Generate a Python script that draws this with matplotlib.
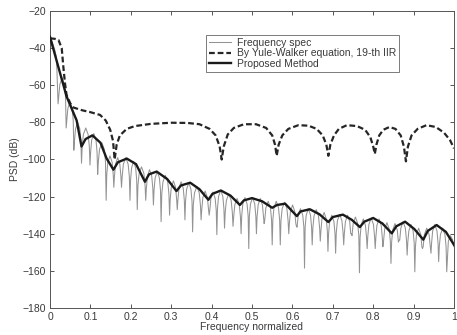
import matplotlib
matplotlib.use("Agg")
import matplotlib.pyplot as plt
import numpy as np

plt.rcParams['font.family'] = ['Liberation Sans', 'DejaVu Sans']

# ---- data ----
# Frequency spec (thin gray): main-lobe head, notch positions/depths, lobe peaks, tail
spec_head_f = [0.0, 0.006, 0.012, 0.016]
spec_head_db = [-34, -37, -41, -45]
notch_f = [0.020, 0.040, 0.059, 0.078, 0.099, 0.118, 0.139, 0.158, 0.177, 0.198,
           0.216, 0.237, 0.256, 0.275, 0.296, 0.315, 0.334, 0.353, 0.374, 0.394,
           0.413, 0.432, 0.453, 0.473, 0.492, 0.511, 0.530, 0.550, 0.570, 0.591,
           0.610, 0.630, 0.649, 0.669, 0.688, 0.707, 0.727, 0.746, 0.766, 0.785,
           0.805, 0.824, 0.844, 0.864, 0.884, 0.903, 0.922, 0.943, 0.962, 0.982]
notch_db = [-70, -83, -95, -102, -103, -108, -122, -115, -115, -122,
            -127, -122, -124.5, -133.5, -130, -127, -132.5, -139, -132.5, -130,
            -140.5, -137, -136, -140, -148, -140, -134.5, -146, -146, -140,
            -136, -158.5, -146, -144, -149.5, -150.5, -146, -140, -161, -148,
            -148, -147, -156, -143.5, -151.5, -160.5, -148, -150.5, -155, -160.5]
lobe_db = [-56, -69, -80, -83, -86, -91, -98, -99, -99,
           -101, -104, -105.5, -106.5, -108.5, -111.5, -112, -112.5, -114.5, -117,
           -117.5, -116.5, -118.5, -121, -120.5, -120.5, -121, -122.5, -122.5, -123,
           -124.5, -126.5, -126.5, -127, -128.5, -130, -129.5, -130, -131, -132,
           -131.5, -132, -134, -134.5, -133.5, -135, -137, -137, -135, -137]
spec_tail_f = [0.986, 0.991, 0.996, 1.0]
spec_tail_db = [-144, -141, -143, -147]

# Yule-Walker 19-th IIR (dashed)
yw_f = [0.0, 0.012, 0.021, 0.029, 0.033, 0.037, 0.041, 0.05, 0.058, 0.08, 0.1, 0.124,
        0.138, 0.149, 0.156, 0.160, 0.165, 0.173, 0.19, 0.21, 0.25, 0.3, 0.34, 0.37,
        0.395, 0.41, 0.42, 0.425, 0.43, 0.44, 0.455, 0.48, 0.51, 0.535, 0.55, 0.557,
        0.561, 0.566, 0.575, 0.59, 0.615, 0.64, 0.66, 0.675, 0.684, 0.689, 0.694,
        0.703, 0.715, 0.735, 0.76, 0.78, 0.793, 0.8, 0.804, 0.808, 0.815, 0.825,
        0.84, 0.855, 0.868, 0.876, 0.881, 0.886, 0.895, 0.91, 0.932, 0.955, 0.975,
        0.99, 1.0]
yw_db = [-34.7, -35, -35.6, -40, -50, -58.8, -65.3, -69.7, -72, -73.5, -74.5, -76,
         -79, -84, -90, -100, -92, -87, -83.5, -82, -80.8, -80.2, -80.3, -81,
         -83.5, -87, -93, -100, -93, -86.5, -83, -81, -81, -83, -87, -92,
         -98, -92, -87, -83.5, -81.5, -81.8, -83.5, -87, -92, -98, -92,
         -87, -83.5, -81.5, -82, -84, -88, -93, -97, -92, -87, -84,
         -82.5, -83.5, -87, -93, -101, -93, -87, -83.5, -81.5, -82.5, -85.5,
         -89.5, -94]

# Proposed method (thick black)
pm_f = [0.0, 0.041, 0.066, 0.078, 0.088, 0.105, 0.125, 0.14, 0.157, 0.168, 0.19,
        0.213, 0.235, 0.245, 0.264, 0.29, 0.313, 0.324, 0.347, 0.37, 0.392, 0.402,
        0.423, 0.447, 0.47, 0.48, 0.5, 0.525, 0.55, 0.562, 0.582, 0.611, 0.62,
        0.643, 0.667, 0.689, 0.7, 0.725, 0.747, 0.767, 0.778, 0.8, 0.823, 0.846,
        0.857, 0.879, 0.902, 0.924, 0.935, 0.957, 0.98, 1.0]
pm_db = [-34, -66, -79, -93, -89, -87, -91, -99.4, -105.5, -101.5, -99.5,
         -102.5, -112, -108, -106.5, -110.5, -117, -114, -112.5, -116, -121.7, -118.5,
         -116.7, -119.5, -124.5, -122, -120.8, -122.5, -126, -124.5, -123.8, -130.5, -128,
         -126.8, -129.5, -133.7, -131, -129.7, -132.5, -136.4, -133.5, -131.5, -134.5, -139.8,
         -136, -133.5, -137.5, -143.2, -138.5, -135.3, -139, -146]

x_ticks = [0, 0.1, 0.2, 0.3, 0.4, 0.5, 0.6, 0.7, 0.8, 0.9, 1]
x_tick_labels = ['0', '0.1', '0.2', '0.3', '0.4', '0.5', '0.6', '0.7', '0.8', '0.9', '1']
y_ticks = [-180, -160, -140, -120, -100, -80, -60, -40, -20]
legend_labels = ['Frequency spec', 'By Yule-Walker equation, 19-th IIR', 'Proposed Method']

# ---- build gray spectrum path (lobe shape = rendering) ----
sf = list(spec_head_f)
sd = list(spec_head_db)
for i in range(len(notch_f)):
    sf.append(notch_f[i]); sd.append(notch_db[i])
    if i < len(notch_f) - 1:
        a, b = notch_f[i], notch_f[i + 1]
        d = b - a
        p = lobe_db[i]
        for frac, drop in [(0.08, 10), (0.22, 3.5), (0.5, 0), (0.78, 3.5), (0.92, 10)]:
            sf.append(a + frac * d); sd.append(p - drop)
sf += spec_tail_f
sd += spec_tail_db

# ---- figure ----
fig = plt.figure(figsize=(4.57, 3.35), dpi=100)
ax = fig.add_axes([50 / 457, 1 - 308 / 335, 404 / 457, 297 / 335])

txt = '#3a3a3a'
ax.plot(sf, sd, color='#939393', lw=0.75, label=legend_labels[0], zorder=2)
ax.plot(yw_f, yw_db, color='#262626', lw=1.6, ls=(0, (2.6, 1.3)), label=legend_labels[1], zorder=3)
ax.plot(pm_f, pm_db, color='#1a1a1a', lw=1.7, label=legend_labels[2], zorder=4)

ax.set_xlim(0, 1)
ax.set_ylim(-180, -20)
ax.set_xticks(x_ticks)
ax.set_xticklabels(x_tick_labels)
ax.set_yticks(y_ticks)
ax.tick_params(direction='in', top=True, right=True, length=3, width=0.6,
               labelsize=7.5, colors=txt, pad=3)
for s in ax.spines.values():
    s.set_linewidth(0.7)
    s.set_color('#555555')

ax.set_xlabel('Frequency normalized', fontsize=7.5, color=txt, labelpad=0)
ax.set_ylabel('PSD (dB)', fontsize=7.5, color=txt, labelpad=2)

leg = ax.legend(loc='upper left', bbox_to_anchor=(0.386, 0.918), fontsize=7.5,
                frameon=True, fancybox=False, edgecolor='#666666', framealpha=1,
                handlelength=2.2, handletextpad=0.5, borderpad=0.25, labelspacing=0.05,
                borderaxespad=0)
leg.get_frame().set_linewidth(0.6)
for t in leg.get_texts():
    t.set_color(txt)

fig.savefig('out.png', dpi=100)
